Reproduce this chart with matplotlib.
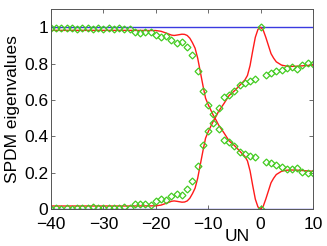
import numpy as np
import matplotlib
matplotlib.use("Agg")
import matplotlib.pyplot as plt

# ===== DATA =====
un = list(range(-40, 11))

# SPDM eigenvalues (diamonds): larger and smaller one
eig_hi = [0.998, 0.995, 0.997, 0.995, 0.997, 0.993, 0.995, 0.994, 0.990, 0.996,
          0.993, 0.994, 0.993, 0.994, 0.990, 0.993, 0.972, 0.971, 0.972, 0.975,
          0.956, 0.945, 0.950, 0.929, 0.914, 0.920, 0.890, 0.846, 0.762, 0.647,
          0.570, 0.523, 0.557, 0.617, 0.628, 0.650, 0.684, 0.693, 0.707, 0.714,
          1.000, 0.737, 0.746, 0.758, 0.765, 0.775, 0.780, 0.771, 0.793, 0.803,
          0.797]
eig_lo = [0.002, 0.005, 0.003, 0.005, 0.003, 0.007, 0.005, 0.006, 0.010, 0.004,
          0.007, 0.006, 0.007, 0.006, 0.010, 0.007, 0.027, 0.028, 0.027, 0.024,
          0.043, 0.053, 0.049, 0.070, 0.085, 0.079, 0.108, 0.152, 0.237, 0.352,
          0.430, 0.476, 0.442, 0.381, 0.370, 0.348, 0.315, 0.305, 0.291, 0.284,
          0.000, 0.261, 0.253, 0.241, 0.234, 0.223, 0.218, 0.227, 0.206, 0.196,
          0.200]

# red reference curves
un_c = [-40, -25, -20, -19, -18, -17, -16.5, -16, -15, -14.5, -14, -13.5, -13,
        -12.5, -12, -11.5, -11, -10.5, -10, -9.5, -9, -8.5, -8, -7, -6, -5, -4,
        -3, -2.5, -2, -1.5, -1, -0.5, 0, 0.5, 1, 1.5, 2, 2.5, 3, 4, 5, 6, 7, 8,
        9, 10]
curve_a = [0.983, 0.983, 0.982, 0.978, 0.968, 0.957, 0.955, 0.957, 0.962, 0.961,
           0.955, 0.940, 0.915, 0.885, 0.830, 0.755, 0.680, 0.610, 0.575, 0.545,
           0.515, 0.490, 0.462, 0.420, 0.375, 0.350, 0.320, 0.290, 0.265, 0.210,
           0.130, 0.055, 0.012, 0.000, 0.015, 0.055, 0.100, 0.145, 0.170, 0.190,
           0.208, 0.214, 0.215, 0.214, 0.212, 0.210, 0.208]
curve_b = [0.017, 0.017, 0.018, 0.022, 0.032, 0.043, 0.045, 0.043, 0.038, 0.039,
           0.045, 0.060, 0.085, 0.115, 0.170, 0.245, 0.320, 0.390, 0.425, 0.455,
           0.485, 0.510, 0.538, 0.580, 0.625, 0.650, 0.680, 0.710, 0.735, 0.790,
           0.870, 0.945, 0.988, 1.000, 0.985, 0.945, 0.900, 0.855, 0.830, 0.810,
           0.792, 0.786, 0.785, 0.786, 0.788, 0.790, 0.792]

bounds_x = [-40, 10]
bound_hi = [1, 1]
bound_lo = [0, 0]

plt.rcParams['font.family'] = ['Liberation Sans', 'DejaVu Sans']

fig = plt.figure(figsize=(3.27, 2.46), dpi=100)
ax = fig.add_axes([0.156, 0.150, 0.801, 0.813])

ax.plot(bounds_x, bound_hi, color='#3a3ae0', lw=1.0)
ax.plot(bounds_x, bound_lo, color='#3a3ae0', lw=1.0)
ax.plot(un_c, curve_a, color='#ff1a1a', lw=1.0)
ax.plot(un_c, curve_b, color='#ff1a1a', lw=1.0)
ax.plot(un, eig_hi, 'D', ms=3.5, mfc='none', mec='#44cc22', mew=0.9)
ax.plot(un, eig_lo, 'D', ms=3.5, mfc='none', mec='#44cc22', mew=0.9)

ax.set_xlim(-40, 10)
ax.set_ylim(0, 1.1)
ax.set_xticks([-40, -30, -20, -10, 0, 10])
ax.set_yticks([0, 0.2, 0.4, 0.6, 0.8, 1])
ax.set_yticklabels(['0', '0.2', '0.4', '0.6', '0.8', '1'])
ax.tick_params(direction='in', top=True, right=True, length=3, width=0.6,
               labelsize=12.5, color='#555555')
ax.tick_params(axis='x', pad=6)
ax.tick_params(axis='y', pad=2)
for s in ax.spines.values():
    s.set_color('#555555')
    s.set_linewidth(0.7)

ax.set_ylabel('SPDM eigenvalues', fontsize=12.5, labelpad=3)
ax.set_xlabel('UN', fontsize=12.5)
ax.xaxis.set_label_coords(0.71, -0.1)

fig.savefig('out.png', dpi=100)
